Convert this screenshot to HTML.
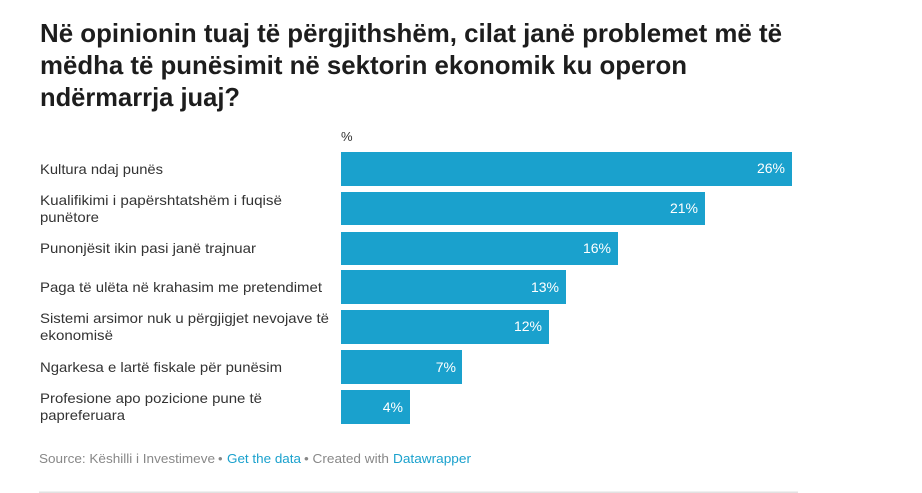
<!DOCTYPE html>
<html><head><meta charset="utf-8">
<style>
html,body{margin:0;padding:0;background:#fff;}
svg{display:block;}
text{font-family:"Liberation Sans",Arial,sans-serif;}
</style></head>
<body>
<svg width="922" height="493" viewBox="0 0 922 493" xmlns="http://www.w3.org/2000/svg">
<rect width="922" height="493" fill="#fff"/>
<g font-weight="bold" font-size="26" fill="#1d1d1d">
<text x="40" y="42" textLength="742" lengthAdjust="spacingAndGlyphs">Në opinionin tuaj të përgjithshëm, cilat janë problemet më të</text>
<text x="40" y="74" textLength="647" lengthAdjust="spacingAndGlyphs">mëdha të punësimit në sektorin ekonomik ku operon</text>
<text x="40" y="106" textLength="200" lengthAdjust="spacingAndGlyphs">ndërmarrja juaj?</text>
</g>
<text x="341" y="141" font-size="13" fill="#333">%</text>
<g fill="#1aa1cd">
<rect x="341" y="152" width="451" height="34"/>
<rect x="341" y="192" width="364" height="33"/>
<rect x="341" y="232" width="277" height="33"/>
<rect x="341" y="270" width="225" height="34"/>
<rect x="341" y="310" width="208" height="34"/>
<rect x="341" y="350" width="121" height="34"/>
<rect x="341" y="390" width="69" height="34"/>
</g>
<g font-size="14" fill="#fff" text-anchor="end">
<text x="785" y="173">26%</text>
<text x="698" y="213">21%</text>
<text x="611" y="253">16%</text>
<text x="559" y="292">13%</text>
<text x="542" y="331">12%</text>
<text x="456" y="372">7%</text>
<text x="403" y="412">4%</text>
</g>
<g font-size="14" fill="#333">
<text x="40" y="174" textLength="123" lengthAdjust="spacingAndGlyphs">Kultura ndaj punës</text>
<text x="40" y="205" textLength="242" lengthAdjust="spacingAndGlyphs">Kualifikimi i papërshtatshëm i fuqisë</text>
<text x="40" y="222" textLength="59" lengthAdjust="spacingAndGlyphs">punëtore</text>
<text x="40" y="253" textLength="216" lengthAdjust="spacingAndGlyphs">Punonjësit ikin pasi janë trajnuar</text>
<text x="40" y="292" textLength="282" lengthAdjust="spacingAndGlyphs">Paga të ulëta në krahasim me pretendimet</text>
<text x="40" y="323" textLength="289" lengthAdjust="spacingAndGlyphs">Sistemi arsimor nuk u përgjigjet nevojave të</text>
<text x="40" y="340" textLength="73" lengthAdjust="spacingAndGlyphs">ekonomisë</text>
<text x="40" y="372" textLength="242" lengthAdjust="spacingAndGlyphs">Ngarkesa e lartë fiskale për punësim</text>
<text x="40" y="403" textLength="222" lengthAdjust="spacingAndGlyphs">Profesione apo pozicione pune të</text>
<text x="40" y="420" textLength="85" lengthAdjust="spacingAndGlyphs">papreferuara</text>
</g>
<g font-size="13">
<text x="39" y="463" fill="#888" textLength="176" lengthAdjust="spacingAndGlyphs">Source: Këshilli i Investimeve</text>
<text x="218" y="463" fill="#888">•</text>
<text x="227" y="463" fill="#1aa1cd" textLength="74" lengthAdjust="spacingAndGlyphs">Get the data</text>
<text x="304" y="463" fill="#888" textLength="85" lengthAdjust="spacingAndGlyphs">• Created with</text>
<text x="393" y="463" fill="#1aa1cd" textLength="78" lengthAdjust="spacingAndGlyphs">Datawrapper</text>
</g>
<rect x="39" y="491.5" width="759" height="1.5" fill="#e2e2e2"/>
</svg>
</body></html>
